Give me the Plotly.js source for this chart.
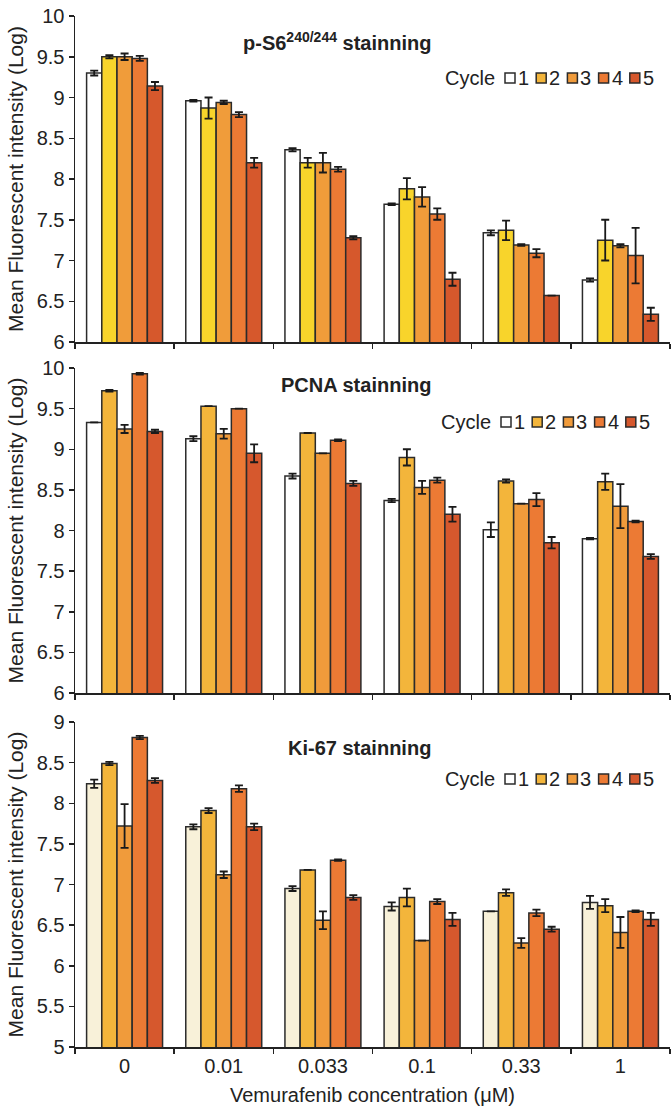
<!DOCTYPE html>
<html>
<head>
<meta charset="utf-8">
<script src="https://cdn.plot.ly/plotly-3.0.1.min.js"></script>
<style>html,body{margin:0;padding:0;background:#fff;}#chart{width:671px;height:1110px;}</style>
</head>
<body>
<div id="chart"></div>
<script>
// ---------- data ----------
const categories = ['0', '0.01', '0.033', '0.1', '0.33', '1'];
const cycles = ['1', '2', '3', '4', '5'];

// p-S6 240/244 staining
const ps6_c1 = [9.30, 8.96, 8.36, 7.69, 7.34, 6.76];
const ps6_c2 = [9.50, 8.87, 8.20, 7.88, 7.37, 7.25];
const ps6_c3 = [9.50, 8.94, 8.20, 7.78, 7.19, 7.18];
const ps6_c4 = [9.48, 8.79, 8.12, 7.57, 7.09, 7.06];
const ps6_c5 = [9.14, 8.20, 7.28, 6.77, 6.57, 6.34];
const ps6_e1 = [0.03, 0.01, 0.02, 0.01, 0.03, 0.02];
const ps6_e2 = [0.02, 0.13, 0.06, 0.13, 0.12, 0.25];
const ps6_e3 = [0.04, 0.02, 0.12, 0.12, 0.01, 0.02];
const ps6_e4 = [0.03, 0.03, 0.03, 0.07, 0.05, 0.34];
const ps6_e5 = [0.05, 0.06, 0.02, 0.08, 0.00, 0.08];

// PCNA staining
const pcna_c1 = [9.33, 9.13, 8.67, 8.37, 8.01, 7.90];
const pcna_c2 = [9.72, 9.53, 9.20, 8.90, 8.61, 8.60];
const pcna_c3 = [9.25, 9.19, 8.95, 8.53, 8.33, 8.30];
const pcna_c4 = [9.93, 9.50, 9.11, 8.62, 8.38, 8.11];
const pcna_c5 = [9.22, 8.95, 8.58, 8.20, 7.85, 7.68];
const pcna_e1 = [0.00, 0.03, 0.03, 0.02, 0.09, 0.01];
const pcna_e2 = [0.01, 0.00, 0.00, 0.10, 0.02, 0.10];
const pcna_e3 = [0.05, 0.06, 0.00, 0.08, 0.00, 0.27];
const pcna_e4 = [0.01, 0.00, 0.01, 0.03, 0.08, 0.01];
const pcna_e5 = [0.02, 0.11, 0.03, 0.09, 0.07, 0.03];

// Ki-67 staining
const ki67_c1 = [8.24, 7.71, 6.95, 6.73, 6.67, 6.78];
const ki67_c2 = [8.49, 7.91, 7.18, 6.84, 6.90, 6.74];
const ki67_c3 = [7.72, 7.12, 6.56, 6.31, 6.28, 6.41];
const ki67_c4 = [8.81, 8.18, 7.30, 6.79, 6.65, 6.67];
const ki67_c5 = [8.28, 7.71, 6.84, 6.57, 6.45, 6.57];
const ki67_e1 = [0.05, 0.03, 0.03, 0.05, 0.00, 0.08];
const ki67_e2 = [0.02, 0.03, 0.00, 0.11, 0.04, 0.08];
const ki67_e3 = [0.27, 0.04, 0.11, 0.00, 0.06, 0.19];
const ki67_e4 = [0.02, 0.04, 0.01, 0.03, 0.04, 0.01];
const ki67_e5 = [0.03, 0.04, 0.03, 0.08, 0.03, 0.08];

const panelTitles = ['p-S6<sup>240/244</sup> stainning', 'PCNA stainning', 'Ki-67 stainning'];
const yTitle = 'Mean Fluorescent intensity (Log)';
const xTitle = 'Vemurafenib concentration (\u03bcM)';
const legendLabel = 'Cycle';

// ---------- styling ----------
const W = 671, H = 1110, ML = 75, MR = 1;
const FONT = 'Arial, "Liberation Sans", Helvetica, sans-serif';
const INK = '#222222';
const colorsP1 = ['#ffffff', '#f8d42b', '#f09c3a', '#ec7a34', '#d6582c'];
const colorsP2 = ['#ffffff', '#f3b53b', '#f09b3b', '#ec7a34', '#d6582d'];
const colorsP3 = ['#f8f1d9', '#f3b53b', '#f09b3b', '#ec7a34', '#d6582d'];
const legendColors = ['#ffffff', '#f3b53b', '#f09b3b', '#ec7a34', '#d6582d'];

function px2x(px) { return (px - ML) / (W - ML - MR); }
function py2y(py) { return (H - py) / H; }

const panels = [
  {vals: [ps6_c1, ps6_c2, ps6_c3, ps6_c4, ps6_c5], errs: [ps6_e1, ps6_e2, ps6_e3, ps6_e4, ps6_e5], colors: colorsP1,
   range: [6, 10], top: 16, bottom: 342, titleY: 42, legY: 78, legRight: 497},
  {vals: [pcna_c1, pcna_c2, pcna_c3, pcna_c4, pcna_c5], errs: [pcna_e1, pcna_e2, pcna_e3, pcna_e4, pcna_e5], colors: colorsP2,
   range: [6, 10], top: 368, bottom: 693, titleY: 385, legY: 422, legRight: 493},
  {vals: [ki67_c1, ki67_c2, ki67_c3, ki67_c4, ki67_c5], errs: [ki67_e1, ki67_e2, ki67_e3, ki67_e4, ki67_e5], colors: colorsP3,
   range: [5, 9], top: 722, bottom: 1047, titleY: 748, legY: 779, legRight: 497}
];

const traces = [];
const layout = {
  width: W, height: H,
  margin: {l: ML, r: MR, t: 0, b: 0},
  paper_bgcolor: '#ffffff', plot_bgcolor: '#ffffff',
  font: {family: FONT, size: 20, color: INK},
  barmode: 'group', bargap: 0.234, bargroupgap: 0,
  showlegend: false,
  annotations: [], shapes: []
};

panels.forEach((p, i) => {
  const n = i === 0 ? '' : String(i + 1);
  const xa = 'x' + n, ya = 'y' + n;
  p.vals.forEach((v, k) => {
    traces.push({
      type: 'bar', x: categories, y: v, name: cycles[k],
      xaxis: xa, yaxis: ya,
      marker: {color: p.colors[k], line: {color: '#2b2b2b', width: 1.5}},
      error_y: {type: 'data', array: p.errs[k], visible: true, color: '#1a1a1a', thickness: 1.8, width: 4},
      hoverinfo: 'x+y'
    });
  });
  const xaxis = {
    anchor: ya, domain: [0, 1], type: 'category', range: [-0.5, 5.5],
    tickson: 'boundaries', ticks: 'outside', ticklen: 5, tickwidth: 1.5, tickcolor: INK,
    showline: true, linecolor: INK, linewidth: 1.5, showgrid: false, zeroline: false,
    showticklabels: i === 2, tickfont: {size: 20, color: INK}
  };
  if (i === 2) xaxis.title = {text: xTitle, font: {size: 20, color: INK}, standoff: 12};
  layout['xaxis' + n] = xaxis;
  layout['yaxis' + n] = {
    anchor: xa, domain: [py2y(p.bottom), py2y(p.top)], range: p.range, dtick: 0.5,
    ticks: 'outside', ticklen: 5, tickwidth: 1.5, tickcolor: INK,
    showline: true, linecolor: INK, linewidth: 1.5, showgrid: false, zeroline: false,
    tickfont: {size: 20, color: INK},
    title: {text: yTitle, font: {size: 21, color: INK}}
  };
  // panel title
  layout.annotations.push({
    xref: 'paper', yref: 'paper', x: px2x(433), y: py2y(p.titleY), xanchor: 'right', yanchor: 'middle',
    text: '<b>' + panelTitles[i] + '</b>', showarrow: false, font: {size: 20, color: INK}
  });
  // legend: "Cycle" + boxes
  layout.annotations.push({
    xref: 'paper', yref: 'paper', x: px2x(p.legRight), y: py2y(p.legY), xanchor: 'right', yanchor: 'middle',
    text: legendLabel, showarrow: false, font: {size: 20, color: INK}
  });
  cycles.forEach((c, k) => {
    const bx = p.legRight + 8 + k * 31.2;
    layout.shapes.push({
      type: 'rect', xref: 'paper', yref: 'paper',
      x0: px2x(bx), x1: px2x(bx + 10), y0: py2y(p.legY + 5), y1: py2y(p.legY - 5),
      fillcolor: legendColors[k], line: {color: '#2b2b2b', width: 1.5}
    });
    layout.annotations.push({
      xref: 'paper', yref: 'paper', x: px2x(bx + 11), y: py2y(p.legY), xanchor: 'left', yanchor: 'middle',
      text: c, showarrow: false, font: {size: 20, color: INK}
    });
  });
});

Plotly.newPlot('chart', traces, layout, {displayModeBar: false, staticPlot: true});
</script>
</body>
</html>
